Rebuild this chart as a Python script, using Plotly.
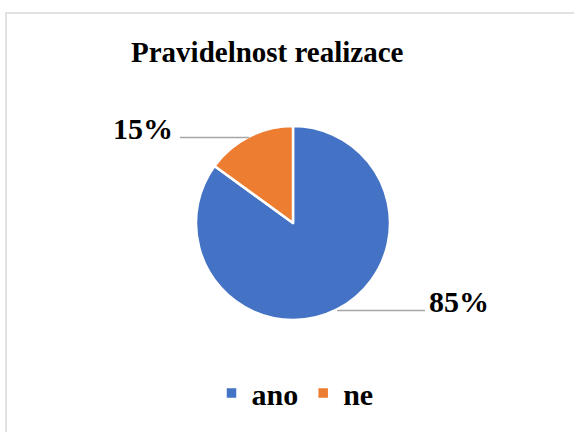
import math
import plotly.graph_objects as go

labels = ["ano", "ne"]
values = [85, 15]
colors = ["#4472C4", "#ED7D31"]
title = "Pravidelnost realizace"

W, H = 574, 432
cx, cy, r = 293, 223, 97  # pie centre / radius in px

fig = go.Figure(go.Pie(
    labels=labels, values=values, sort=False, direction="clockwise", rotation=0,
    marker=dict(colors=colors, line=dict(color="white", width=2.5)),
    textinfo="none", hoverinfo="label+percent",
    domain=dict(x=[(cx - r) / W, (cx + r) / W], y=[1 - (cy + r) / H, 1 - (cy - r) / H]),
))

def px(x):
    return x / W

def py(y):
    return 1 - y / H

total = sum(values)
cum = 0
shapes = []
annotations = []
for lab, v in zip(labels, values):
    mid = (cum + v / 2) / total * 2 * math.pi
    cum += v
    sx = cx + r * math.sin(mid)
    sy = cy - r * math.cos(mid)
    pct = f"{round(v / total * 100)}%"
    if math.sin(mid) >= 0:
        ex = sx + 88
        tx, anchor = ex + 2, "left"
        ty = sy - 8
    else:
        ex = sx - 69
        tx, anchor = ex - 5, "right"
        ty = sy - 8
    shapes.append(dict(type="line", xref="paper", yref="paper",
                       x0=px(sx), y0=py(sy + 1), x1=px(ex), y1=py(sy + 1),
                       line=dict(color="#A6A6A6", width=1.5)))
    annotations.append(dict(text=f"<b>{pct}</b>", xref="paper", yref="paper",
                            x=px(tx), y=py(ty), xanchor=anchor, yanchor="middle",
                            showarrow=False,
                            font=dict(family="Liberation Serif", size=30, color="black")))

# chart border
shapes.append(dict(type="rect", xref="paper", yref="paper",
                   x0=px(6), y0=py(445), x1=px(590), y1=py(13),
                   line=dict(color="#D9D9D9", width=1.5), fillcolor="rgba(0,0,0,0)"))

annotations.append(dict(text=f"<b>{title}</b>", xref="paper", yref="paper",
                        x=px(267), y=py(52), xanchor="center", yanchor="middle",
                        showarrow=False,
                        font=dict(family="Liberation Serif", size=29, color="black")))

fig.update_layout(
    width=W, height=H,
    margin=dict(l=0, r=0, t=0, b=0),
    paper_bgcolor="white", plot_bgcolor="white",
    shapes=shapes, annotations=annotations,
    showlegend=True,
    legend=dict(orientation="h", x=px(295), y=py(393), xanchor="center", yanchor="middle",
                font=dict(family="Liberation Serif", size=30, color="black", weight="bold"),
                bgcolor="rgba(0,0,0,0)"),
)

fig.write_html("out.html", config={"displayModeBar": False},
               post_script="document.body.style.margin='0';")
